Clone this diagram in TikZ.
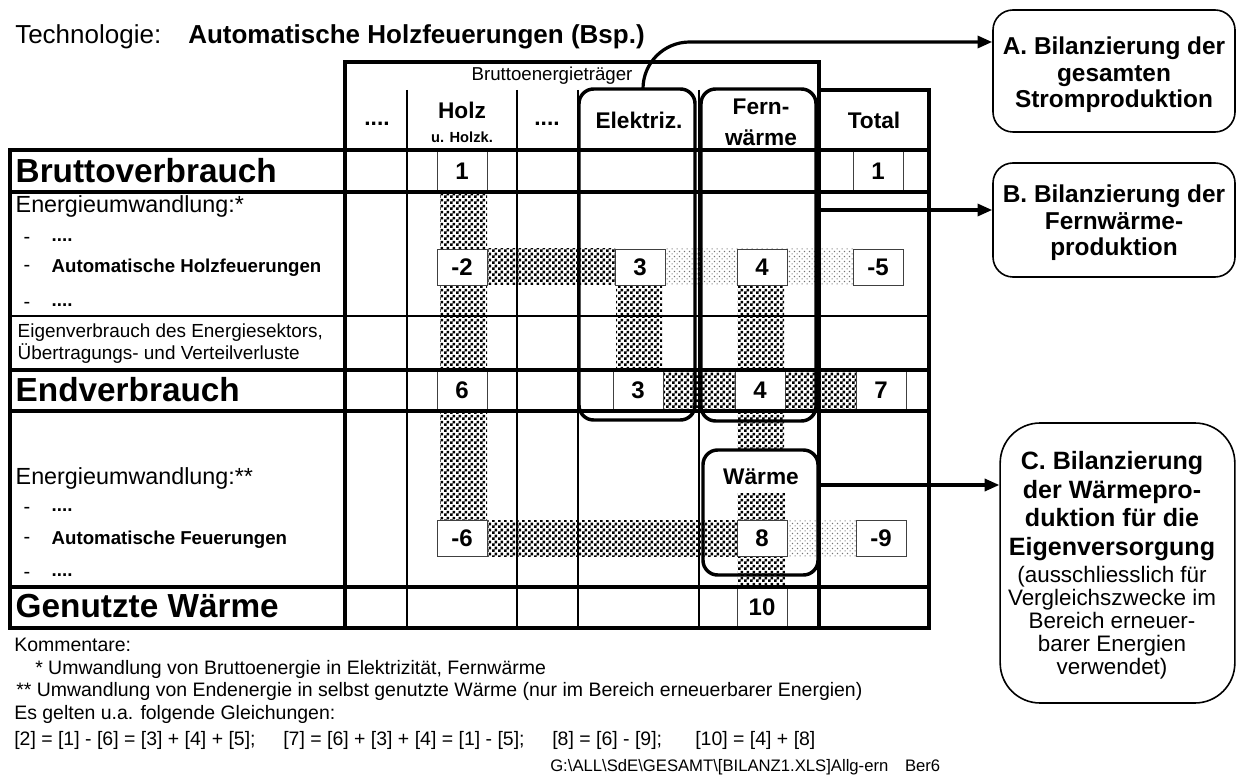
\documentclass[tikz,border=0pt]{standalone}
\usepackage{fontspec}
\setmainfont{Liberation Sans}
\usetikzlibrary{positioning, calc, arrows.meta, patterns, fit}

\newcommand{\fourdots}{....}

% fill patterns of the flow bands
\pgfdeclarepatternformonly{woodchecks}{\pgfqpoint{0pt}{0pt}}{\pgfqpoint{4.5pt}{4.5pt}}{\pgfqpoint{4.5pt}{4.5pt}}{%
  \pgfpathrectangle{\pgfqpoint{0pt}{0pt}}{\pgfqpoint{2.25pt}{2.25pt}}%
  \pgfpathrectangle{\pgfqpoint{2.25pt}{2.25pt}}{\pgfqpoint{2.25pt}{2.25pt}}%
  \pgfusepath{fill}}
\pgfdeclarepatternformonly{greydots}{\pgfqpoint{0pt}{0pt}}{\pgfqpoint{4pt}{4pt}}{\pgfqpoint{4pt}{4pt}}{%
  \pgfpathrectangle{\pgfqpoint{0.5pt}{0.5pt}}{\pgfqpoint{0.9pt}{0.9pt}}%
  \pgfpathrectangle{\pgfqpoint{2.5pt}{2.5pt}}{\pgfqpoint{0.9pt}{0.9pt}}%
  \pgfusepath{fill}}

\begin{document}
\begin{tikzpicture}[
  x=0.75pt, y=-0.75pt,
  font=\fontsize{14.6}{17}\selectfont,
  >={Triangle[length=11pt,width=9pt]},
  thinrule/.style={line width=0.8pt},
  thickrule/.style={line width=2.3pt, line cap=rect},
  darkband/.style={pattern=woodchecks},
  lightband/.style={pattern=greydots, pattern color=black!55},
  numbox/.style={draw=black!75, fill=white, line width=0.7pt, inner sep=0pt,
    minimum width=37.5pt, minimum height=27pt,
    font=\bfseries\fontsize{18}{18}\selectfont},
  numcell/.style={numbox, minimum height=30.5pt},
  groupbox/.style={draw, line width=2.6pt, rounded corners=11pt, inner sep=0pt},
  notebox/.style={draw, line width=1.2pt, rounded corners=15pt, inner sep=0pt},
  notehead/.style={align=center, font=\bfseries\fontsize{18.3}{20}\selectfont},
  feed/.style={->, line width=2.4pt},
  colhead/.style={font=\bfseries\fontsize{17}{23}\selectfont, align=center},
  rowbig/.style={anchor=west, font=\bfseries\fontsize{25}{30}\selectfont},
  rowtxt/.style={anchor=west, font=\fontsize{17.5}{21}\selectfont},
  rowsub/.style={anchor=west, font=\bfseries\fontsize{14}{17}\selectfont},
  rowdash/.style={font=\fontsize{15}{17}\selectfont},
  rowsmall/.style={anchor=west, align=left, font=\fontsize{14.2}{16.5}\selectfont},
  remark/.style={anchor=west, inner sep=0pt},
]
\useasboundingbox (0,0) rectangle (1237,780);

% ---------------- title ----------------
\node[remark, font=\fontsize{19.5}{23}\selectfont] (techlbl) at (15,37) {Technologie:};
\node[remark, font=\bfseries\fontsize{19.5}{23}\selectfont] (techname) at (188,37)
  {Automatische Holzfeuerungen (Bsp.)};

% =====================================================================
% table: thin rules, flow bands, number cells, thick rules
% =====================================================================
\foreach \x in {407,517,578,699} {
  \draw[thinrule] (\x,90) -- (\x,628);
}
\draw[thinrule] (10,316) -- (929,316);

% dark flows
\fill[darkband] (440,192) rectangle (487,520);
\fill[darkband] (487,249) rectangle (615,285);
\fill[darkband] (616,285) rectangle (662,370);
\fill[darkband] (662,370) rectangle (857,411);
\fill[darkband] (737,285) rectangle (784,450);
\fill[darkband] (737,493) rectangle (785,587);
\fill[darkband] (487,520) rectangle (737,556);
% light flows (to Total)
\fill[lightband] (665,249) rectangle (853,285);
\fill[lightband] (787,520) rectangle (857,556);

% number cells
\foreach \n/\x/\y/\t in {h1/462/171/1, h6/462/390.5/6, e3/638/390.5/3, f4/760/390.5/4,
                         f10/762/607.5/10, t1/878/171/1, t7/881/390.5/7} {
  \node[numcell] (c\n) at (\x,\y) {\t};
}
\foreach \n/\x/\y/\t in {h2/462/267/-2, e3/640/267/3, f4/762/267/4, t5/878/267/-5,
                         h6/462/538/-6, f8/762/538/8, t9/881/538/-9} {
  \node[numbox] (b\n) at (\x,\y) {\t};
}

\foreach \y in {150,192,370,411,587,628} {
  \draw[thickrule] (10,\y) -- (929,\y);
}
\draw[thickrule] (345,62) -- (819,62);
\draw[thickrule] (819,90) -- (929,90);
\draw[thickrule] (10,150) -- (10,628);
\draw[thickrule] (345,62) -- (345,628);
\draw[thickrule] (819,62) -- (819,628);
\draw[thickrule] (929,90) -- (929,628);

% ---------------- column heads ----------------
\node[font=\fontsize{14}{17}\selectfont] (carrier) at (552,76) {Bruttoenergieträger};
\node[colhead] (hdots1) at (377,124) {\fourdots};
\node[colhead] (hholz) at (462,110) {Holz};
\node[font=\bfseries\fontsize{11}{13}\selectfont] (hholzk) at (462,137) {u. Holzk.};
\node[colhead] (hdots2) at (547,124) {\fourdots};
\node[colhead] (helek) at (639,120) {Elektriz.};
\node[colhead] (hfern) at (761,122) {Fern-\\wärme};
\node[colhead] (htotal) at (874,120) {Total};

% ---------------- row heads ----------------
\node[rowbig] (rbrutto) at (11,171) {Bruttoverbrauch};
\node[rowtxt] (rumw1) at (11,206) {Energieumwandlung:*};
\foreach \y/\t in {240/\fourdots, 268/Automatische Holzfeuerungen, 305/\fourdots} {
  \node[rowdash] (da\y) at (27,\y) {-};
  \node[rowsub] (ta\y) at (47,\y) {\t};
}
\node[rowsmall] (reigen) at (13,344)
  {Eigenverbrauch des Energiesektors,\\Übertragungs- und Verteilverluste};
\node[rowbig] (rend) at (11,390) {Endverbrauch};
\node[rowtxt] (rumw2) at (11,478) {Energieumwandlung:**};
\foreach \y/\t in {510/\fourdots, 540/Automatische Feuerungen, 575/\fourdots} {
  \node[rowdash] (db\y) at (27,\y) {-};
  \node[rowsub] (tb\y) at (47,\y) {\t};
}
\node[rowbig] (rnutz) at (11,606) {Genutzte Wärme};

% =====================================================================
% grouping frames + notes on the right
% =====================================================================
\node[groupbox, fit={(579,89) (695,420)}] (elekbox) {};
\node[groupbox, fit={(701,89) (816,421)}] (fernbox) {};
\node[groupbox, fit={(703,450) (818,575)}] (waermebox) {};
\node[colhead] (waermelbl) at (761,477) {Wärme};

\node[notebox, minimum width=181.5pt, minimum height=91.5pt] (noteA) at (1114,71) {};
\node[notehead] (noteAtext) at (1114,75) {A. Bilanzierung der\\gesamten\\Stromproduktion};
\node[notebox, minimum width=181.5pt, minimum height=85.5pt] (noteB) at (1114,220) {};
\node[notehead] (noteBtext) at (1114,223) {B. Bilanzierung der\\Fernwärme-\\produktion};
\node[notebox, rounded corners=30pt, minimum width=176pt, minimum height=210pt] (noteC) at (1117.5,563) {};
\node[align=center, font=\bfseries\fontsize{18.8}{21.3}\selectfont] (noteChead) at (1112,506)
  {C. Bilanzierung\\der Wärmepro-\\duktion für die\\Eigenversorgung};
\node[align=center, font=\fontsize{16.8}{17.3}\selectfont] (noteCtext) at (1112,623)
  {(ausschliesslich für\\Vergleichszwecke im\\Bereich erneuer-\\barer Energien\\verwendet)};

\coordinate (aStart) at ($(elekbox.north)+(6,0)$);
\coordinate (aLevel) at (0,42);
\coordinate (bStart) at (fernbox.east |- 0,210);
\coordinate (cStart) at (waermebox.east |- 0,485);
\draw[feed, rounded corners=35pt] (aStart) |- (noteA.west |- aLevel);
\draw[feed] (bStart) -- (bStart -| noteB.west);
\draw[feed] (cStart) -- (cStart -| noteC.west);

% ---------------- comments below ----------------
\node[remark] (komm) at (14,645) {Kommentare:};
\node[remark] (komm1) at (35,669) {* Umwandlung von Bruttoenergie in Elektrizität, Fernwärme};
\node[remark] (komm2) at (16,691)
  {** Umwandlung von Endenergie in selbst genutzte Wärme (nur im Bereich erneuerbarer Energien)};
\node[remark] (gleich) at (14,714) {Es gelten u.a. folgende Gleichungen:};
\node[remark] (eq1) at (14,740) {[2] = [1] - [6] = [3] + [4] + [5];};
\node[remark] (eq2) at (283,740) {[7] = [6] + [3] + [4] = [1] - [5];};
\node[remark] (eq3) at (552,740) {[8] = [6] - [9];};
\node[remark] (eq4) at (695,740) {[10] = [4] + [8]};
\node[remark, font=\fontsize{12.5}{14}\selectfont] (fpath) at (550,767)
  {G:\textbackslash ALL\textbackslash SdE\textbackslash GESAMT\textbackslash [BILANZ1.XLS]Allg-ern\quad Ber6};
\end{tikzpicture}
\end{document}
